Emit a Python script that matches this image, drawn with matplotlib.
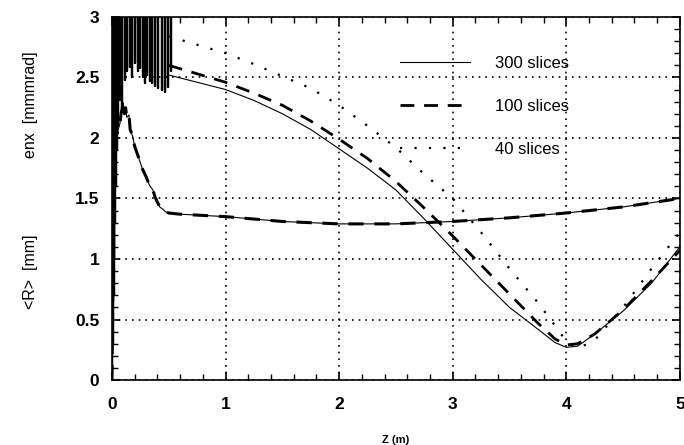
import numpy as np
import matplotlib
matplotlib.use("Agg")
import matplotlib.pyplot as plt
from matplotlib.ticker import MultipleLocator

plt.rcParams['font.family'] = ['Liberation Sans', 'DejaVu Sans']

# emittance after the slice region
z_emit = [0.5, 0.75, 1.0, 1.25, 1.5, 1.75, 2.0, 2.25, 2.5, 2.75, 3.0, 3.25, 3.5,
          3.75, 3.9, 4.0, 4.1, 4.25, 4.5, 4.75, 5.0]
emit_300 = [2.52, 2.46, 2.40, 2.31, 2.20, 2.07, 1.91, 1.75, 1.57, 1.33, 1.08, 0.83, 0.60,
            0.42, 0.31, 0.27, 0.28, 0.38, 0.57, 0.80, 1.10]
emit_100 = [2.60, 2.53, 2.46, 2.37, 2.27, 2.14, 1.99, 1.83, 1.64, 1.42, 1.19, 0.95, 0.71,
            0.47, 0.34, 0.29, 0.30, 0.38, 0.58, 0.82, 1.07]
emit_40 = [2.84, 2.77, 2.70, 2.61, 2.51, 2.41, 2.27, 2.10, 1.92, 1.70, 1.50, 1.22, 0.92,
           0.64, 0.45, 0.32, 0.26, 0.33, 0.60, 0.92, 1.22]

# oscillating emittance near the gun (spike positions and their lowest values)
spike_z = [0.004, 0.01, 0.016, 0.022, 0.028, 0.035, 0.045, 0.055, 0.07, 0.09, 0.114, 0.135,
           0.158, 0.18, 0.2, 0.225, 0.246, 0.27, 0.29, 0.31, 0.334, 0.355, 0.378, 0.405,
           0.44, 0.466, 0.49, 0.52]
spike_low = [0.05, 0.3, 0.7, 1.0, 1.3, 1.6, 1.9, 2.1, 2.31, 2.25, 2.48, 2.55, 2.59, 2.5,
             2.62, 2.55, 2.58, 2.50, 2.45, 2.52, 2.47, 2.45, 2.43, 2.41, 2.40, 2.38, 2.42, 2.55]
spike_top = 3.3

# beam radius <R>
z_r = [0.0, 0.01, 0.02, 0.03, 0.05, 0.07, 0.08, 0.1, 0.11, 0.12, 0.13, 0.15, 0.16, 0.18,
       0.2, 0.23, 0.27, 0.3, 0.33, 0.36, 0.38, 0.42, 0.45, 0.47, 0.5, 0.6, 0.8, 1.0, 1.5,
       2.0, 2.5, 3.0, 3.5, 4.0, 4.5, 5.0]
r_mean = [0.0, 1.0, 1.6, 2.0, 2.05, 2.12, 2.2, 2.29, 2.2, 2.25, 2.17, 2.19, 2.07, 2.02,
          1.93, 1.85, 1.74, 1.68, 1.61, 1.57, 1.51, 1.43, 1.41, 1.39, 1.38, 1.37, 1.36,
          1.35, 1.31, 1.29, 1.29, 1.31, 1.34, 1.38, 1.43, 1.50]

fig = plt.figure(figsize=(6.84, 4.45), dpi=100)
ax = fig.add_axes([0.1637, 0.146, 0.8303, 0.816])

sz = np.repeat(spike_z, 3)
sv = np.column_stack([np.full(len(spike_low), spike_top), spike_low,
                      np.full(len(spike_low), spike_top)]).ravel()
ax.plot(sz, sv, color='black', lw=1.6)

ax.plot(z_r, r_mean, color='black', lw=0.8)
ax.plot(z_r, r_mean, color='black', lw=2.2, linestyle=(0, (5, 3.5)))

ax.plot(z_emit, emit_300, color='black', lw=0.8, label='300 slices')
ax.plot(z_emit, emit_100, color='black', lw=2.0, linestyle=(0, (5, 3.5)), label='100 slices')
ax.plot(z_emit, emit_40, color='black', lw=1.6, linestyle=(0, (1, 5.5)), label='40 slices')

ax.set_xlim(0, 5)
ax.set_ylim(0, 3)
ax.xaxis.set_major_locator(MultipleLocator(1))
ax.xaxis.set_minor_locator(MultipleLocator(0.2))
ax.yaxis.set_major_locator(MultipleLocator(0.5))
ax.yaxis.set_minor_locator(MultipleLocator(0.1))
ax.set_yticks([0, 0.5, 1, 1.5, 2, 2.5, 3], ['0', '0.5', '1', '1.5', '2', '2.5', '3'])
ax.tick_params(which='both', direction='in', top=True, right=True, colors='black')
ax.tick_params(which='major', length=6, width=1.2, labelsize=12.5)
ax.tick_params(axis='x', which='major', pad=12)
ax.tick_params(axis='y', which='major', pad=9)
ax.tick_params(which='minor', length=4, width=1.0)
for lab in ax.get_xticklabels() + ax.get_yticklabels():
    lab.set_fontweight('bold')
ax.grid(True, which='major', color='black', lw=1.2, linestyle=(0, (1, 3)))
for sp in ax.spines.values():
    sp.set_linewidth(1.2)

ax.set_xlabel('Z (m)', fontsize=8, fontweight='bold', labelpad=17)
fig.text(0.044, 0.389, '<R>  [mm]', rotation=90, ha='center', va='center', fontsize=11.5)
fig.text(0.044, 0.764, 'enx  [mmmrad]', rotation=90, ha='center', va='center', fontsize=11.5)

leg = ax.legend(loc='upper left', bbox_to_anchor=(0.48, 0.935), frameon=False,
                handlelength=4.2, handletextpad=1.5, labelspacing=1.7, fontsize=12)

fig.savefig('out.png', dpi=100)
